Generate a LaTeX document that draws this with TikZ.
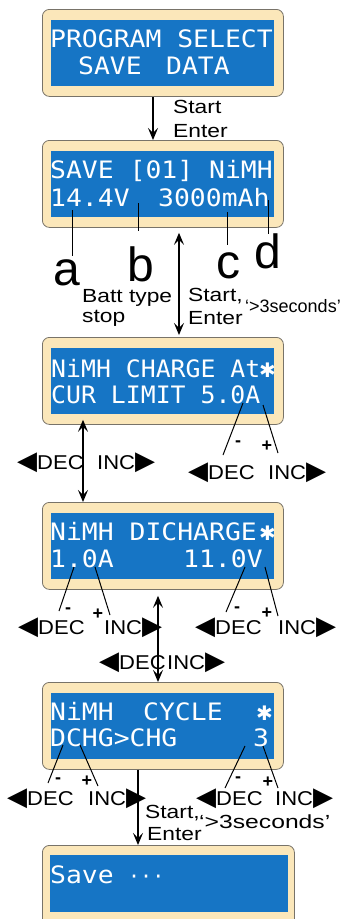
\documentclass[tikz,border=0pt]{standalone}
\usepackage{fontspec}
\setmainfont{Liberation Sans}
\newfontfamily\lcdfont[FakeStretch=1.1]{DejaVu Sans Mono}
\newfontfamily\lcddots{DejaVu Sans Mono}
\newfontfamily\lblfont[FakeStretch=1.2]{Liberation Sans}
\newfontfamily\decfont[FakeStretch=1.1]{Liberation Sans}
\newfontfamily\secfont[FakeStretch=1.3]{Liberation Sans}
\newfontfamily\symfont{DejaVu Sans}
\usetikzlibrary{arrows.meta}
\newcommand{\LTri}{{\symfont\fontsize{26}{26}\selectfont ◀}}
\newcommand{\RTri}{{\symfont\fontsize{26}{26}\selectfont ▶}}
\definecolor{lcdblue}{RGB}{22,117,197}
\definecolor{framefill}{RGB}{251,231,186}
\definecolor{framedraw}{RGB}{120,115,105}
\begin{document}
\begin{tikzpicture}[x=1pt,y=-1pt,
 outerbox/.style={draw=framedraw, line width=0.8pt, fill=framefill, rounded corners=7pt, minimum width=241pt, minimum height=87pt, inner sep=0pt, anchor=north west},
 screen/.style={fill=lcdblue, minimum width=223pt, minimum height=66pt, inner sep=0pt, anchor=north west},
 lcd/.style={text=white, font=\lcdfont\fontsize{24}{24}\selectfont, inner sep=0pt, anchor=base west},
 lcdstar/.style={text=white, font=\symfont\fontsize{20}{20}\selectfont, inner sep=0pt, anchor=base west},
 lbl/.style={font=\lblfont\fontsize{19}{19}\selectfont, inner sep=0pt, anchor=base west},
 declbl/.style={font=\decfont\fontsize{20}{20}\selectfont, inner sep=0pt, anchor=base west},
 big/.style={font=\fontsize{48}{48}\selectfont, inner sep=0pt, anchor=base},
 pm/.style={font=\bfseries\fontsize{18}{18}\selectfont, inner sep=0pt},
 arr/.style={line width=1.2pt, -{Stealth[length=12pt,width=10pt,inset=5pt]}},
 darr/.style={line width=1.2pt, {Stealth[length=12pt,width=10pt,inset=5pt]}-{Stealth[length=12pt,width=10pt,inset=5pt]}},
 ptr/.style={line width=1pt}]
\useasboundingbox (0,0) rectangle (350,919);

% ---------- boxes ----------
\node[outerbox] (b1) at (42,9) {};
\node[screen] (s1) at (51,20) {};
\node[outerbox] (b2) at (42,140) {};
\node[screen] (s2) at (51,151) {};
\node[outerbox] (b3) at (42,337) {};
\node[screen] (s3) at (51,348) {};
\node[outerbox] (b4) at (42,502) {};
\node[screen] (s4) at (51,513) {};
\node[outerbox] (b5) at (42,682) {};
\node[screen] (s5) at (51,693) {};
\node[outerbox, minimum width=252pt, minimum height=90pt] (b6) at (42,845) {};
\node[screen, minimum width=238pt, minimum height=57pt] (s6) at (50,855) {};

% ---------- LCD texts ----------
\node[lcd] (t1a) at (50,47) {PROGRAM SELECT};
\node[lcd] (t1b) at (78,74) {SAVE};
\node[lcd] (t1c) at (166,74) {DATA};

\node[lcd] (t2a) at (50,178) {SAVE [01] NiMH};
\node[lcd] (t2b) at (50,206) {14.4V};
\node[lcd] (t2c) at (158,206) {3000mAh};

\node[lcd] (t3a) at (51,377) {\scalebox{0.94}[1]{NiMH CHARGE At}};
\node[lcdstar] (t3s) at (259,377) {✱};
\node[lcd] (t3b) at (51,403) {\scalebox{0.94}[1]{CUR LIMIT 5.0A}};

\node[lcd] (t4a) at (50,540) {NiMH DICHARGE};
\node[lcdstar] (t4s) at (259,540) {✱};
\node[lcd] (t4b) at (50,567) {1.0A};
\node[lcd] (t4c) at (183,567) {11.0V};

\node[lcd] (t5a) at (50,720) {NiMH};
\node[lcd] (t5b) at (143,720) {CYCLE};
\node[lcdstar] (t5s) at (256,720) {✱};
\node[lcd] (t5c) at (50,746) {DCHG>CHG};
\node[lcd] (t5d) at (253,746) {3};

\node[lcd] (t6a) at (50,883) {Save};
\node[text=white, font=\lcddots\fontsize{20}{20}\selectfont, inner sep=0pt, anchor=base west] (t6b) at (128,883) {···};

% ---------- main arrows ----------
\coordinate (x1) at (153,0);
\coordinate (x2) at (179,0);
\coordinate (x3) at (83,0);
\coordinate (x4) at (158,0);
\coordinate (x5) at (138,0);
\draw[arr] (b1.south -| x1) -- (b2.north -| x1);
\draw[darr, shorten <=5pt, shorten >=2pt] (b2.south -| x2) -- (b3.north -| x2);
\draw[darr, shorten <=-5pt] (b3.south -| x3) -- (b4.north -| x3);
\draw[darr, shorten <=6pt] (b4.south -| x4) -- (b5.north -| x4);
\draw[arr] (b5.south -| x5) -- (b6.north -| x5);

% ---------- texts beside arrows ----------
\node[lbl] (st1) at (173,113) {Start};
\node[lbl] (en1) at (173,137) {Enter};

\node[lbl] (bt) at (82,302) {Batt type};
\node[lbl] (sp) at (82,322) {stop};
\node[lbl] (st2) at (188,301) {Start,};
\node[lbl] (en2) at (188,324) {Enter};
\node[font=\fontsize{18}{18}\selectfont, inner sep=0pt, anchor=base west] (sc2) at (245,312) {‘>3seconds’};

\node[lbl] (st5) at (145,818) {Start,};
\node[lbl] (en5) at (147,840) {Enter};
\node[font=\secfont\fontsize{19}{19}\selectfont, inner sep=0pt, anchor=base west] (sc5) at (199,828) {‘>3seconds’};

% ---------- a b c d ----------
\node[big] (la) at (67,285) {a};
\node[big] (lb) at (141,281) {b};
\node[big] (lc) at (228,278) {c};
\node[big] (ld) at (268,268) {d};
\coordinate (pa1) at (72,210); \coordinate (pa2) at (72,256);
\coordinate (pb1) at (138,203); \coordinate (pb2) at (138,231);
\coordinate (pc1) at (227,212); \coordinate (pc2) at (227,245);
\coordinate (pd1) at (268,200); \coordinate (pd2) at (268,234);
\draw[ptr] (pa1) -- (pa2);
\draw[ptr] (pb1) -- (pb2);
\draw[ptr] (pc1) -- (pc2);
\draw[ptr] (pd1) -- (pd2);

% ---------- DEC / INC labels ----------
\node[declbl] (d3r) at (188,479) {\LTri DEC};
\node[declbl] (i3r) at (268,479) {INC\RTri};
\node[declbl] (d3l) at (17,469) {\LTri DEC};
\node[declbl] (i3l) at (97,469) {INC\RTri};

\node[declbl] (d4l) at (18,634) {\LTri DEC};
\node[declbl] (i4l) at (104,634) {INC\RTri};
\node[declbl] (d4r) at (195,634) {\LTri DEC};
\node[declbl] (i4r) at (278,634) {INC\RTri};
\node[declbl] (d4m) at (99,669) {\LTri DEC};
\node[declbl] (i4m) at (167,669) {INC\RTri};

\node[declbl] (d5l) at (7,805) {\LTri DEC};
\node[declbl] (i5l) at (88,805) {INC\RTri};
\node[declbl] (d5r) at (196,805) {\LTri DEC};
\node[declbl] (i5r) at (275,805) {INC\RTri};

% ---------- +/- pointers ----------
\node[pm] (m3) at (238,444) {-};
\node[pm] (p3) at (267,446) {+};
\coordinate (q3a) at (243,403); \coordinate (q3b) at (223,455);
\coordinate (q3c) at (263,405); \coordinate (q3d) at (278,453);
\draw[ptr] (q3a) -- (q3b);
\draw[ptr] (q3c) -- (q3d);

\node[pm] (m4l) at (68,611) {-};
\node[pm] (p4l) at (98,614) {+};
\node[pm] (m4r) at (237,610) {-};
\node[pm] (p4r) at (267,613) {+};
\coordinate (q4a) at (74,567); \coordinate (q4b) at (59,611);
\coordinate (q4c) at (95,567); \coordinate (q4d) at (110,615);
\coordinate (q4e) at (245,567); \coordinate (q4f) at (226,612);
\coordinate (q4g) at (265,567); \coordinate (q4h) at (278,616);
\draw[ptr] (q4a) -- (q4b);
\draw[ptr] (q4c) -- (q4d);
\draw[ptr] (q4e) -- (q4f);
\draw[ptr] (q4g) -- (q4h);

\node[pm] (m5l) at (58,781) {-};
\node[pm] (p5l) at (87,781) {+};
\node[pm] (m5r) at (238,780) {-};
\node[pm] (p5r) at (268,782) {+};
\coordinate (q5a) at (63,745); \coordinate (q5b) at (48,783);
\coordinate (q5c) at (80,745); \coordinate (q5d) at (98,786);
\coordinate (q5e) at (245,746); \coordinate (q5f) at (225,788);
\coordinate (q5g) at (263,746); \coordinate (q5h) at (278,788);
\draw[ptr] (q5a) -- (q5b);
\draw[ptr] (q5c) -- (q5d);
\draw[ptr] (q5e) -- (q5f);
\draw[ptr] (q5g) -- (q5h);
\end{tikzpicture}
\end{document}
